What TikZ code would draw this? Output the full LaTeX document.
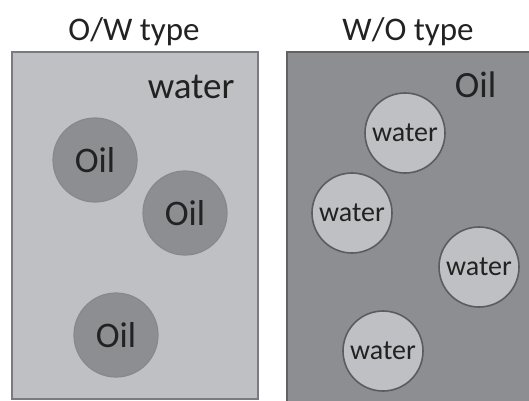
\documentclass[tikz,border=0pt]{standalone}
\usepackage{fontspec}
\setmainfont{Carlito}
\usepackage{xcolor}
\definecolor{lightphase}{HTML}{BFC0C4}
\definecolor{darkphase}{HTML}{8D8E92}
\definecolor{edgegray}{HTML}{7A7B7E}
\definecolor{rimdark}{HTML}{5C5C5E}
\definecolor{inkgray}{HTML}{222222}

\begin{document}
\begin{tikzpicture}[x=1pt, y=-1pt, every node/.style={text=inkgray},
  oildrop/.style={circle, fill=darkphase, draw=edgegray!90, line width=1.2pt, minimum size=84pt, inner sep=0pt, font=\fontsize{36}{36}\selectfont},
  waterdrop/.style={circle, fill=lightphase, draw=rimdark, line width=1.6pt, minimum size=80pt, inner sep=0pt, font=\fontsize{28}{28}\selectfont},
  heading/.style={anchor=base, font=\fontsize{33}{33}\selectfont},
  phase/.style={anchor=base east, font=\fontsize{37}{37}\selectfont}]
\useasboundingbox (0,0) rectangle (529,400);
\clip (0,0) rectangle (529,400);
% titles
\node[heading] (owtitle) at (134,40) {O/W type};
\node[heading] (wotitle) at (408,40) {W/O type};
% continuous phases
\draw[edgegray, line width=1.6pt, fill=lightphase] (12,52) rectangle (258,399);
\draw[edgegray!80!black, line width=1.6pt, fill=darkphase] (287,52) rectangle (540,410);
\node[phase] (owbulk) at (238,98) {water};
\node[phase] (wobulk) at (500,97) {Oil};
% droplets
\foreach \n/\x/\y in {1/95/160, 2/185/213, 3/116/335}
  \node[oildrop] (oil\n) at (\x,\y) {Oil};
\foreach \n/\x/\y in {1/405/133, 2/352/213, 3/479/267, 4/383/351}
  \node[waterdrop] (water\n) at (\x,\y) {water};
\end{tikzpicture}
\end{document}
